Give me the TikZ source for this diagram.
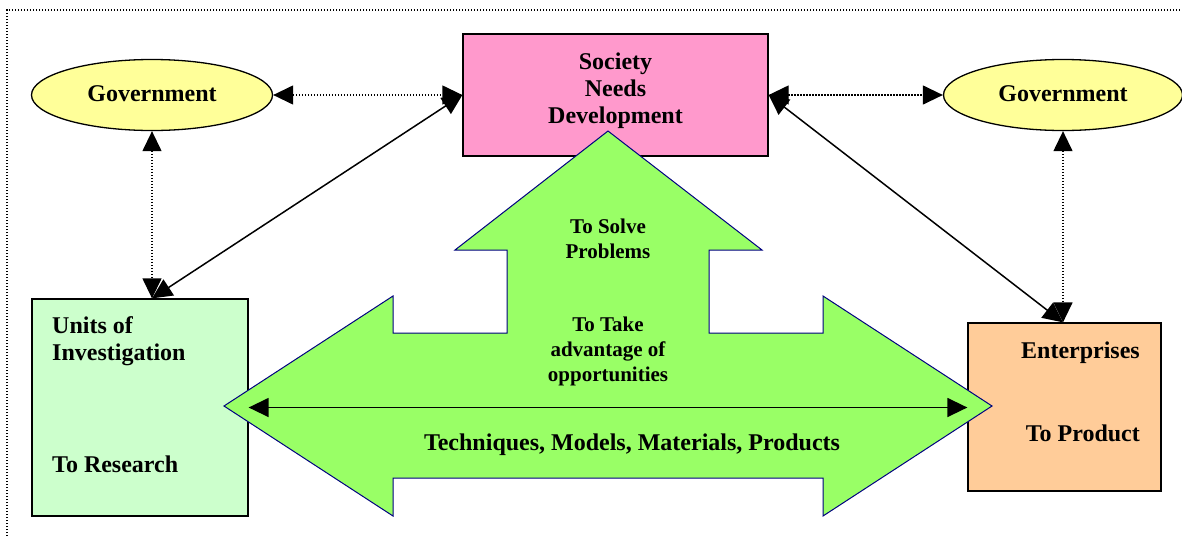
\documentclass[tikz,border=0pt]{standalone}
\usepackage{fontspec}
\setmainfont{Liberation Serif}
\usetikzlibrary{arrows.meta,shapes.geometric}
\definecolor{govyellow}{HTML}{FFFF99}
\definecolor{socpink}{HTML}{FF99CC}
\definecolor{unitgreen}{HTML}{CCFFCC}
\definecolor{entorange}{HTML}{FFCC99}
\definecolor{arrowgreen}{HTML}{99FF66}
\definecolor{arrownavy}{HTML}{000080}
\tikzset{
  big/.style={font=\bfseries\fontsize{24}{27}\selectfont},
  small/.style={font=\bfseries\fontsize{21}{25}\selectfont},
  gov/.style={ellipse, draw, line width=1.3pt, fill=govyellow, inner sep=0pt},
  boxst/.style={rectangle, draw, line width=1.3pt, inner sep=0pt},
  txt/.style={inner sep=0pt, align=center},
  dotline/.style={line width=1.3pt, dash pattern=on 1.3pt off 1.7pt},
  tipboth/.style={{Triangle[length=20pt,width=19pt]}-{Triangle[length=20pt,width=19pt]}},
  frame/.style={line width=1.2pt, dash pattern=on 1.2pt off 1.8pt},
}
\begin{document}
\begin{tikzpicture}[x=1pt,y=-1pt]
\useasboundingbox (0,0) rectangle (1182,536);
% frame
\draw[frame] (7,536) -- (7,10) -- (1182,10);

% nodes
\node[gov, minimum width=241pt, minimum height=71pt] (gl) at (152,95) {};
\node[big] (gltxt) at (152,94) {Government};
\node[gov, minimum width=239pt, minimum height=71pt] (gr) at (1063,95) {};
\node[big] (grtxt) at (1063,94) {Government};

\node[boxst, fill=socpink, minimum width=305pt, minimum height=122pt] (soc) at (615.5,95) {};
\node[big, txt] (soctxt) at (615.5,91) {Society\\Needs\\Development};

\node[boxst, fill=unitgreen, minimum width=216pt, minimum height=217pt] (units) at (140,407.5) {};
\node[big, txt, align=left, anchor=west] (unitstxt) at (52,341) {Units of\\Investigation};
\node[big, txt, anchor=west] (restxt) at (52,464) {To Research};

\node[boxst, fill=entorange, minimum width=193pt, minimum height=168pt] (ent) at (1064.5,407) {};
\node[big, txt, anchor=east] (enttxt) at (1140,353) {Enterprises};
\node[big, txt, anchor=east] (prodtxt) at (1140,433) {To Product};

% big green arrow
\draw[line width=1pt, draw=arrownavy, fill=arrowgreen, line join=miter]
  (224,406) -- (393,296) -- (393,333) -- (507,333) -- (507,250) -- (455,250)
  -- (608,131) -- (762,250) -- (709,250) -- (709,333) -- (823,333) -- (823,296)
  -- (992,406) -- (823,516) -- (823,478) -- (393,478) -- (393,516) -- cycle;

\node[small, txt] (solvetxt) at (608,239) {To Solve\\Problems};
\node[small, txt] (taketxt) at (608,351) {To Take\\advantage of\\opportunities};
\node[big, txt] (techtxt) at (632,445) {Techniques, Models, Materials, Products};

% connectors
\coordinate (uTop) at (gl.south |- units.north);
\coordinate (eTop) at (gr.south |- ent.north);
\draw[tipboth, line width=1.5pt] (units.east) -- (units.east -| ent.west);
\draw[tipboth, dotline] (gl.east) -- (soc.west);
\draw[tipboth, dotline] (soc.east) -- (gr.west);
\draw[tipboth, dotline] (gl.south) -- (uTop);
\draw[tipboth, dotline] (gr.south) -- (eTop);
\draw[tipboth, line width=1.5pt] (uTop) -- (soc.west);
\draw[tipboth, line width=1.5pt] (soc.east) -- (eTop);
\end{tikzpicture}
\end{document}
